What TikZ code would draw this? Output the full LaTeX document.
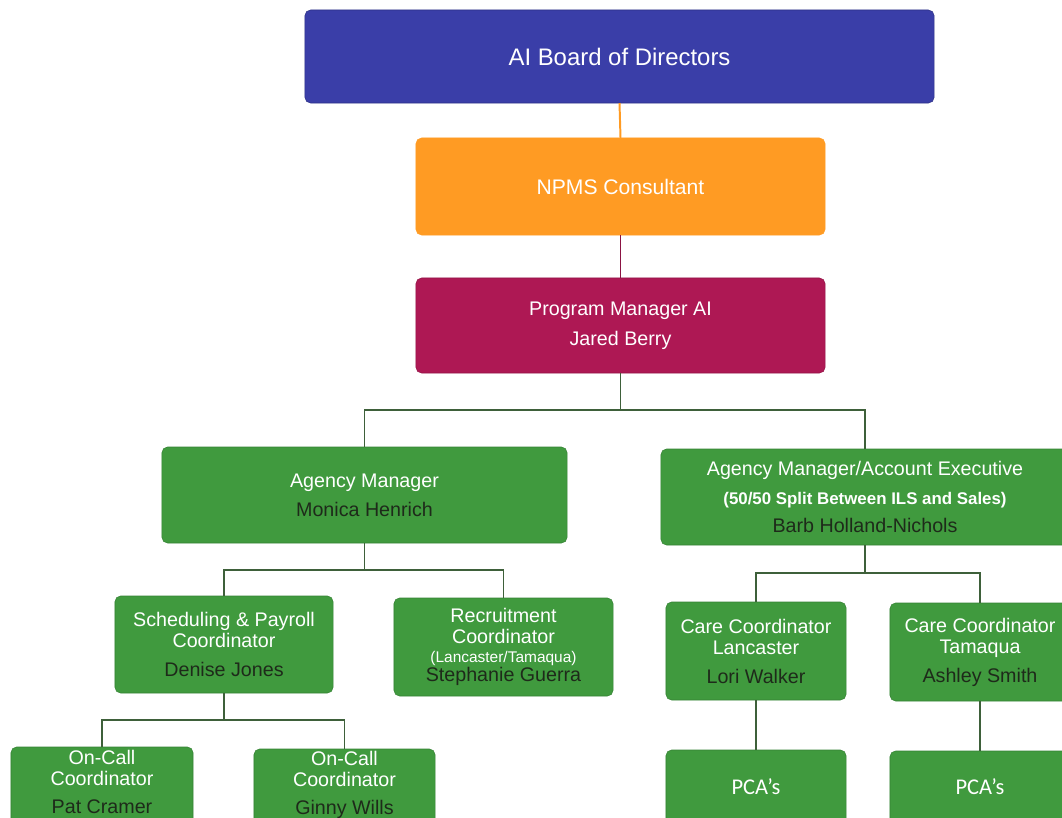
\documentclass[tikz,border=0pt]{standalone}
\usepackage{fontspec}
\setmainfont{Liberation Sans}
\newfontfamily\pcafont{Carlito}
\usepackage{tikz}
\usetikzlibrary{positioning}
\definecolor{boardblue}{RGB}{58,62,168}
\definecolor{npmsorange}{RGB}{255,155,35}
\definecolor{pmcrimson}{RGB}{174,24,84}
\definecolor{staffgreen}{RGB}{64,154,62}
\definecolor{namedark}{RGB}{30,42,26}
\definecolor{wiregreen}{RGB}{62,96,58}
\newcommand{\who}[1]{\textcolor{namedark}{#1}}
\tikzset{
    block/.style={
        draw, rounded corners=4pt,
        inner sep=0pt, outer sep=0pt,
        align = center, text = white,
        font = \fontsize{14}{15}\selectfont
    },
    staff/.style = {block, fill=staffgreen, draw=staffgreen!85!black},
    txt/.style = {align=center, text=white, inner sep=0pt, font=\fontsize{14}{15}\selectfont},
    line/.style = {line width=1.4pt, wiregreen}
}

\begin{document}
\begin{tikzpicture}[x=0.025cm, y=-0.025cm]

    % Frame
    \useasboundingbox (0,0) rectangle (1062,817);
    \clip (0,0) rectangle (1062,817);

    % Top of the chart
    \node[block, fill=boardblue, draw=boardblue!80!black, minimum width=15.725cm, minimum height=2.325cm,
        font=\fontsize{17}{20}\selectfont] (board) at (619.5,56.5) {AI Board of Directors};
    \node[block, fill=npmsorange, draw=npmsorange, minimum width=10.225cm, minimum height=2.425cm,
        font=\fontsize{15}{18}\selectfont] (npms) at (620.5,186.5) {NPMS Consultant};
    \node[block, fill=pmcrimson, draw=pmcrimson!85!black, minimum width=10.225cm, minimum height=2.375cm]
        (pm) at (620.5,325.5) {Program Manager AI\\[6pt]Jared Berry};

    % Managers
    \node[staff, minimum width=10.125cm, minimum height=2.4cm] (am) at (364.5,495)
        {Agency Manager\\[5.5pt]\who{Monica Henrich}};
    \node[staff, minimum width=10.2cm, minimum height=2.4cm] (amae) at (865,497)
        {Agency Manager/Account Executive\\[5.5pt]{\bfseries\fontsize{12}{15}\selectfont (50/50 Split Between ILS and Sales)}\\[5.5pt]\who{Barb Holland-Nichols}};

    % Coordinators
    \node[staff, minimum width=5.45cm, minimum height=2.425cm] (sched) at (224,644.5)
        {Scheduling \& Payroll\\Coordinator\\[5.5pt]\who{Denise Jones}};
    \node[staff, minimum width=5.475cm, minimum height=2.45cm] (recruit) at (503.5,647)
        {Recruitment\\Coordinator\\[-1.5pt]{\fontsize{11}{12}\selectfont (Lancaster/Tamaqua)}\\[-1pt]\who{Stephanie Guerra}};
    \node[staff, minimum width=4.5cm, minimum height=2.45cm] (carel) at (756,651)
        {Care Coordinator\\Lancaster\\[5.5pt]\who{Lori Walker}};
    \node[staff, minimum width=4.5cm, minimum height=2.45cm] (caret) at (980,652)
        {Care Coordinator\\Tamaqua\\[5.5pt]\who{Ashley Smith}};

    % Bottom row
    \node[staff, minimum width=4.55cm, minimum height=2.45cm] (patbox) at (102,796) {};
    \node[txt] (pat) at (102,782) {On-Call\\Coordinator\\[4.5pt]\who{Pat Cramer}};
    \node[staff, minimum width=4.525cm, minimum height=2.45cm] (ginnybox) at (344.5,798) {};
    \node[txt] (ginny) at (344.5,785) {On-Call\\Coordinator\\[4.5pt]\who{Ginny Wills}};
    \node[staff, minimum width=4.5cm, minimum height=2.45cm] (pcalbox) at (756,799) {};
    \node[txt, font=\pcafont\fontsize{16}{18}\selectfont] (pcal) at (756,787) {PCA’s};
    \node[staff, minimum width=4.5cm, minimum height=2.45cm] (pcatbox) at (980,800) {};
    \node[txt, font=\pcafont\fontsize{16}{18}\selectfont] (pcat) at (980,787) {PCA’s};

    % Lines
    \draw[line, npmsorange] (board.south) -- (npms.north);
    \draw[line, pmcrimson!80!black] (npms.south) -- (pm.north);
    \draw[line] (pm.south) -- ++(0,37) -| (am.north);
    \draw[line] (pm.south) -- ++(0,37) -| (amae.north);
    \draw[line] (am.south) -- ++(0,27) -| (sched.north);
    \draw[line] (am.south) -- ++(0,27) -| (recruit.north);
    \draw[line] (amae.south) -- ++(0,28) -| (carel.north);
    \draw[line] (amae.south) -- ++(0,28) -| (caret.north);
    \draw[line] (sched.south) -- ++(0,27) -| (patbox.north);
    \draw[line] (sched.south) -- ++(0,27) -| (ginnybox.north);
    \draw[line] (carel.south) -- (pcalbox.north);
    \draw[line] (caret.south) -- (pcatbox.north);

\end{tikzpicture}
\end{document}
